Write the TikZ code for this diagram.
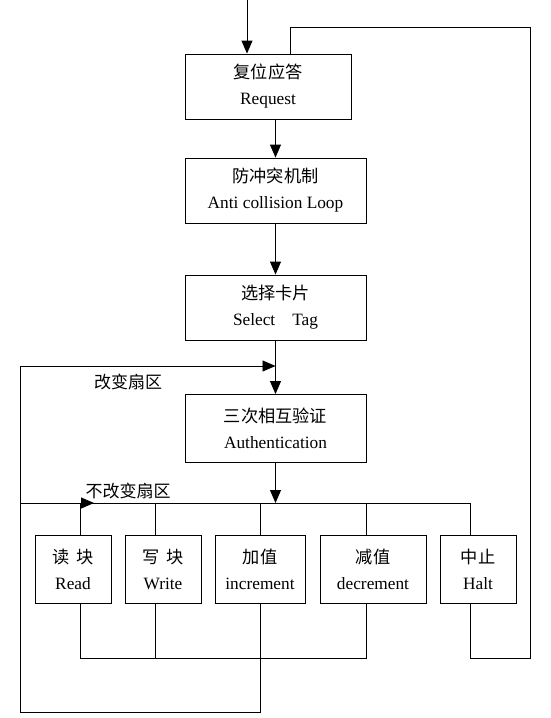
\documentclass[tikz,border=0pt]{standalone}
\usepackage{fontspec}
\setmainfont{Liberation Serif}
\newfontfamily\cjk{Noto Sans CJK SC}
\usetikzlibrary{arrows.meta}
\newcommand\cjkline[1]{{\cjk\fontsize{17.2}{26}\selectfont #1}}
\begin{document}
\begin{tikzpicture}[x=1pt,y=-1pt,
  box/.style={draw,line width=0.9pt,inner sep=0pt,align=center,font=\fontsize{17.3}{26}\selectfont},
  ln/.style={line width=0.9pt},
  arr/.style={ln,-{Triangle[length=13pt,width=11pt]}},
  lbl/.style={font=\cjk\fontsize{17}{20}\selectfont,inner sep=0pt}]
\useasboundingbox (0,0) rectangle (550,718);
% boxes
\node[box,minimum width=166pt,minimum height=65pt] (req) at (268,86.5) {\cjkline{复位应答}\\Request};
\node[box,minimum width=181pt,minimum height=65pt] (anti) at (275.5,190.5) {\cjkline{防冲突机制}\\Anti collision Loop};
\node[box,minimum width=181pt,minimum height=65pt] (sel) at (275.5,307.5) {\cjkline{选择卡片}\\Select\hspace{17pt}Tag};
\node[box,minimum width=181pt,minimum height=68pt] (auth) at (275.5,428.5) {\cjkline{三次相互验证}\\Authentication};
\node[box,minimum width=76pt,minimum height=68pt] (read) at (73,569.5) {\cjkline{读\hspace{7pt}块}\\Read};
\node[box,minimum width=76pt,minimum height=68pt] (write) at (163,569.5) {\cjkline{写\hspace{7pt}块}\\Write};
\node[box,minimum width=90pt,minimum height=68pt] (inc) at (260,569.5) {\cjkline{加值}\\increment};
\node[box,minimum width=106pt,minimum height=68pt] (dec) at (373,569.5) {\cjkline{减值}\\decrement};
\node[box,minimum width=76pt,minimum height=68pt] (halt) at (478,569.5) {\cjkline{中止}\\Halt};
% labels
\node[lbl] (l1) at (128,382) {改变扇区};
\node[lbl] (l2) at (128,491) {不改变扇区};
% coordinates
\coordinate (start) at (247,0);
\coordinate (busL) at (20,503);
\coordinate (busR) at (470,503);
\coordinate (ncS) at (80,503);
\coordinate (nc) at (94,503);
\coordinate (dr) at (80,503);
\coordinate (dw) at (155,503);
\coordinate (di) at (260,503);
\coordinate (dd) at (366,503);
\coordinate (dh) at (470,503);
\coordinate (db) at (366,658);
\coordinate (ib) at (260,712);
\coordinate (lb) at (20,712);
\coordinate (lt) at (20,366);
\coordinate (hb) at (470,658);
\coordinate (rb) at (530,658);
\coordinate (rt) at (530,27);
\coordinate (tt) at (290,27);
% main chain
\draw[arr] (start) -- (start |- req.north);
\draw[arr] (req.south -| anti.north) -- (anti.north);
\draw[arr] (anti.south) -- (sel.north);
\draw[arr] (sel.south) -- (auth.north);
\draw[arr] (auth.south) -- (auth.south |- busL);
% bus
\draw[ln] (busL) -- (busR);
\draw[arr] (ncS) -- (nc);
\draw[ln] (dr) -- (dr |- read.north);
\draw[ln] (dw) -- (dw |- write.north);
\draw[ln] (di) -- (di |- inc.north);
\draw[ln] (dd) -- (dd |- dec.north);
\draw[ln] (dh) -- (dh |- halt.north);
% return of read/write/decrement
\draw[ln] (dr |- read.south) -- (dr |- db) -- (db) -- (db |- dec.south);
\draw[ln] (dw |- write.south) -- (dw |- db);
% increment loop
\draw[arr] (di |- inc.south) -- (ib) -- (lb) -- (lt) -- (lt -| sel.south);
% halt loop
\draw[ln] (dh |- halt.south) -- (hb) -- (rb) -- (rt) -- (tt) -- (tt |- req.north);
\end{tikzpicture}
\end{document}
